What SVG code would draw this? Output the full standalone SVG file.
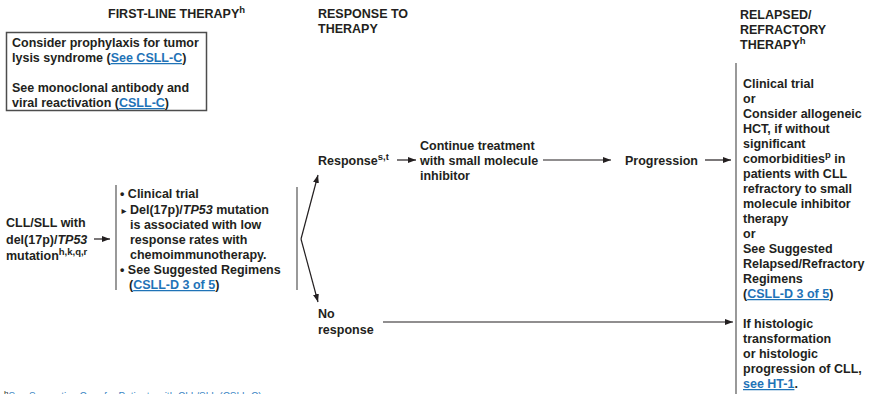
<svg xmlns="http://www.w3.org/2000/svg" width="871" height="394" viewBox="0 0 871 394">
<style>
text{font-family:"Liberation Sans",Arial,sans-serif;font-size:12.5px;font-weight:bold;fill:#231f20}
.sup{font-size:9.5px}
.lnk{fill:#1f73b7;text-decoration:underline}
.it{font-style:italic}
.br{stroke:#808080;stroke-width:1.6;fill:none}
.ar{stroke:#231f20;stroke-width:1.2;fill:none;marker-end:url(#ah)}
.fn{font-size:10px;font-weight:normal;fill:#3a86c4}
</style>
<defs>
<marker id="ah" viewBox="0 0 8 6" refX="8" refY="3" markerWidth="8" markerHeight="6" markerUnits="userSpaceOnUse" orient="auto">
<path d="M0,0 L8,3 L0,6 z" fill="#231f20"/>
</marker>
</defs>

<g id="headers">
<text x="108" y="18">FIRST-LINE THERAPY<tspan class="sup" dy="-5">h</tspan></text>
<text x="318" y="18">RESPONSE TO</text>
<text x="318" y="33">THERAPY</text>
<text x="740" y="19">RELAPSED/</text>
<text x="740" y="34">REFRACTORY</text>
<text x="740" y="49">THERAPY<tspan class="sup" dy="-5">h</tspan></text>
</g>

<g id="prophylaxis-box">
<rect x="6.5" y="32.5" width="200" height="78" fill="#fff" stroke="#4d4d4d" stroke-width="1.5"/>
<text x="12" y="47">Consider prophylaxis for tumor</text>
<text x="12" y="62">lysis syndrome (<tspan class="lnk">See CSLL-C</tspan>)</text>
<text x="12" y="92">See monoclonal antibody and</text>
<text x="12" y="107">viral reactivation (<tspan class="lnk">CSLL-C</tspan>)</text>
</g>

<g id="diagnosis">
<text x="6" y="227">CLL/SLL with</text>
<text x="6" y="243.5">del(17p)/<tspan class="it">TP53</tspan></text>
<text x="6" y="260">mutation<tspan class="sup" dy="-5">h,k,q,r</tspan></text>
</g>

<g id="first-line">
<line class="br" x1="116" y1="185" x2="116" y2="290"/>
<text x="120" y="198">• Clinical trial</text>
<text x="121.5" y="213.5" style="font-family:'DejaVu Sans',sans-serif;font-size:10px">▸</text>
<text x="130" y="213.5">Del(17p)/<tspan class="it">TP53</tspan> mutation</text>
<text x="130" y="228.5">is associated with low</text>
<text x="130" y="243.5">response rates with</text>
<text x="130" y="258.5">chemoimmunotherapy.</text>
<text x="120" y="274">• See Suggested Regimens</text>
<text x="129" y="289">(<tspan class="lnk">CSLL-D 3 of 5</tspan>)</text>
<line class="br" x1="297" y1="187" x2="297" y2="290"/>
</g>

<g id="response">
<text x="318" y="165">Response<tspan class="sup" dy="-5">s,t</tspan></text>
</g>

<g id="continue">
<text x="420" y="150">Continue treatment</text>
<text x="420" y="165">with small molecule</text>
<text x="420" y="180">inhibitor</text>
</g>

<g id="progression">
<text x="625" y="165">Progression</text>
</g>

<g id="no-response">
<text x="318" y="318">No</text>
<text x="318" y="334">response</text>
</g>

<g id="relapsed">
<line class="br" x1="736" y1="63" x2="736" y2="394"/>
<text x="743" y="88">Clinical trial</text>
<text x="743" y="103">or</text>
<text x="743" y="118">Consider allogeneic</text>
<text x="743" y="133">HCT, if without</text>
<text x="743" y="148">significant</text>
<text x="743" y="163">comorbidities<tspan class="sup" dy="-5">p</tspan><tspan dy="5"> in</tspan></text>
<text x="743" y="178">patients with CLL</text>
<text x="743" y="193">refractory to small</text>
<text x="743" y="208">molecule inhibitor</text>
<text x="743" y="223">therapy</text>
<text x="743" y="238">or</text>
<text x="743" y="253">See Suggested</text>
<text x="743" y="268">Relapsed/Refractory</text>
<text x="743" y="283">Regimens</text>
<text x="743" y="298">(<tspan class="lnk">CSLL-D 3 of 5</tspan>)</text>
<text x="743" y="328">If histologic</text>
<text x="743" y="343">transformation</text>
<text x="743" y="358">or histologic</text>
<text x="743" y="373">progression of CLL,</text>
<text x="743" y="388"><tspan class="lnk">see HT-1</tspan>.</text>
</g>

<g id="footnote">
<text x="4" y="400" class="fn"><tspan style="fill:#231f20;font-size:8px" dy="-4">h</tspan><tspan dy="4">See Supportive Care for Patients with CLL/SLL (CSLL-C).</tspan></text>
</g>

<g id="connectors">
<line class="ar" x1="94" y1="239" x2="110" y2="239"/>
<line class="ar" x1="301" y1="239" x2="318" y2="175"/>
<line class="ar" x1="301" y1="239" x2="318" y2="302"/>
<line class="ar" x1="397" y1="160" x2="416" y2="160"/>
<line class="ar" x1="543" y1="160" x2="611" y2="160"/>
<line class="ar" x1="705" y1="160" x2="731" y2="160"/>
<line class="ar" x1="383" y1="322" x2="733" y2="322"/>
</g>
</svg>
